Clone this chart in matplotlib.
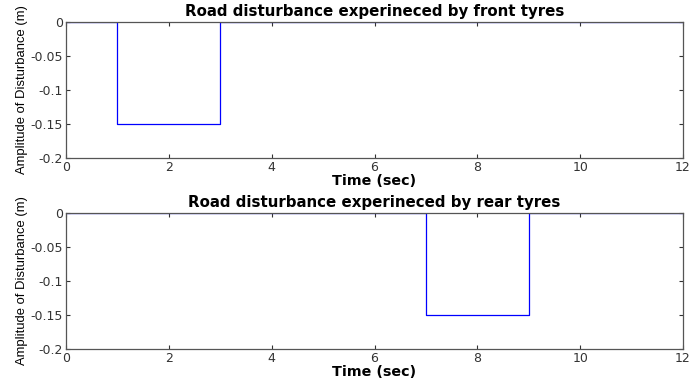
import matplotlib.pyplot as plt

# Road profile seen by each axle: a 0.15 m dip, rear delayed by 6 s
t_front = [0, 1, 1, 3, 3, 12]
d_front = [0, 0, -0.15, -0.15, 0, 0]
t_rear = [0, 7, 7, 9, 9, 12]
d_rear = [0, 0, -0.15, -0.15, 0, 0]

titles = ["Road disturbance experineced by front tyres",
          "Road disturbance experineced by rear tyres"]
xticks = [0, 2, 4, 6, 8, 10, 12]
yticks = [0, -0.05, -0.1, -0.15, -0.2]
ytick_labels = ["0", "-0.05", "-0.1", "-0.15", "-0.2"]

plt.rcParams['font.family'] = ['DejaVu Sans']

fig = plt.figure(figsize=(6.89, 3.81), dpi=100)
fig.patch.set_facecolor('white')

boxes = [[66/689, 1 - 158/381, 617/689, 136/381],
         [66/689, 1 - 349/381, 617/689, 136/381]]
series = [(t_front, d_front), (t_rear, d_rear)]

for box, (t, d), title in zip(boxes, series, titles):
    ax = fig.add_axes(box)
    ax.plot(t, d, color='#0000ff', linewidth=0.9)
    ax.set_xlim(0, 12)
    ax.set_ylim(-0.2, 0)
    ax.set_xticks(xticks)
    ax.set_yticks(yticks)
    ax.set_yticklabels(ytick_labels)
    ax.tick_params(direction='in', top=True, right=True, length=3,
                   width=0.8, colors='#333333', labelsize=9, pad=2)
    for s in ax.spines.values():
        s.set_color('#555555')
        s.set_linewidth(0.9)
    ax.set_title(title, fontsize=10.8, fontweight='bold', pad=4)
    ax.set_xlabel("Time (sec)", fontsize=10.3, fontweight='bold', labelpad=0)
    ax.set_ylabel("Amplitude of Disturbance (m)", fontsize=9.4,
                  family='Liberation Sans', fontweight='medium', labelpad=2)

fig.savefig("out.png", dpi=100)
